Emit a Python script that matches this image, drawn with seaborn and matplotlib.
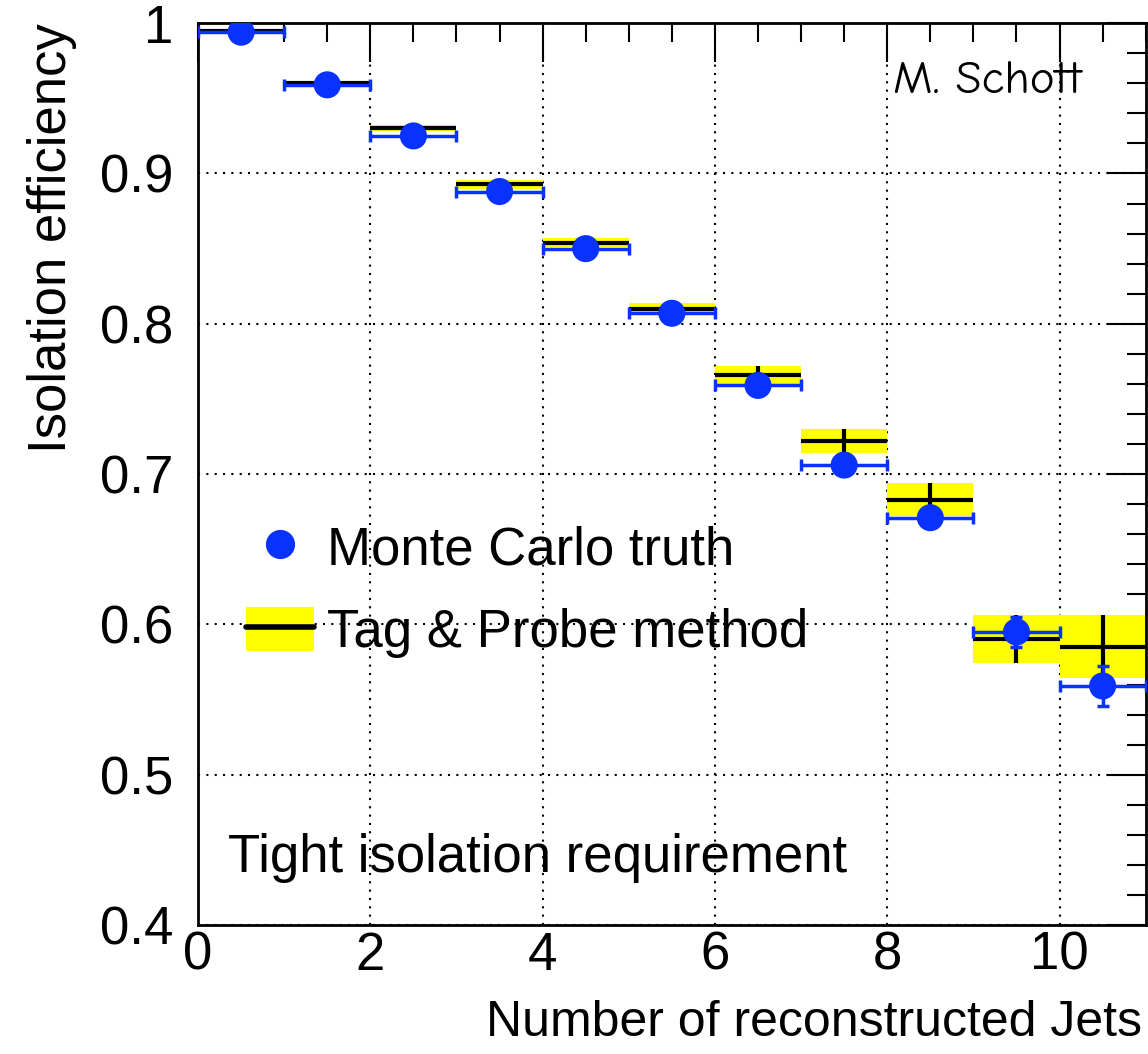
import numpy as np
import pandas as pd
import matplotlib
matplotlib.use("Agg")
import matplotlib.pyplot as plt
from matplotlib.lines import Line2D
from matplotlib.patches import Patch
from matplotlib.ticker import MultipleLocator
import seaborn as sns

# ---- data ----
bin_centers = [0.5, 1.5, 2.5, 3.5, 4.5, 5.5, 6.5, 7.5, 8.5, 9.5, 10.5]
mc_truth = [0.994, 0.959, 0.925, 0.888, 0.850, 0.807, 0.759, 0.706, 0.671, 0.595, 0.559]
mc_err = [0.001, 0.001, 0.001, 0.001, 0.001, 0.001, 0.002, 0.003, 0.004, 0.010, 0.013]
tp_eff = [0.995, 0.960, 0.930, 0.893, 0.854, 0.810, 0.766, 0.722, 0.683, 0.590, 0.585]
tp_err = [0.001, 0.001, 0.002, 0.003, 0.003, 0.004, 0.006, 0.008, 0.011, 0.016, 0.021]
y_ticks = [0.4, 0.5, 0.6, 0.7, 0.8, 0.9, 1.0]
y_tick_labels = ["0.4", "0.5", "0.6", "0.7", "0.8", "0.9", "1"]
bin_half = 0.5

df = pd.DataFrame({"x": bin_centers, "mc": mc_truth, "mc_err": mc_err,
                   "tp": tp_eff, "tp_err": tp_err})

sns.set_theme(style="white")
plt.rcParams["font.family"] = ["Liberation Sans", "DejaVu Sans"]
plt.rcParams["text.color"] = "black"
plt.rcParams["axes.labelcolor"] = "black"
plt.rcParams["xtick.color"] = "black"
plt.rcParams["ytick.color"] = "black"

fig = plt.figure(figsize=(11.48, 10.54), dpi=100)
ax = fig.add_axes([0.1725, 0.1224, 0.8255, 0.8556])

# Tag & Probe: yellow boxes, black lines
for _, r in df.iterrows():
    ax.fill_between([r.x - bin_half, r.x + bin_half], r.tp - r.tp_err, r.tp + r.tp_err,
                    color="#ffff00", lw=0, zorder=2)
ax.errorbar(df.x, df.tp, xerr=bin_half, yerr=df.tp_err, fmt="none",
            ecolor="black", elinewidth=3, capsize=0, zorder=3)

# MC truth
ax.errorbar(df.x, df.mc, xerr=bin_half, yerr=df.mc_err, fmt="none",
            ecolor="#0a32ff", elinewidth=2.5, capsize=4, capthick=2.5, zorder=4)
sns.scatterplot(data=df, x="x", y="mc", ax=ax, color="#0a32ff", s=380,
                edgecolor="none", zorder=5, legend=False)

ax.set_xlim(0, 11)
ax.set_ylim(0.4, 1.0)
ax.xaxis.set_major_locator(MultipleLocator(2))
ax.xaxis.set_minor_locator(MultipleLocator(0.5))
ax.yaxis.set_major_locator(MultipleLocator(0.1))
ax.yaxis.set_minor_locator(MultipleLocator(0.02))
ax.set_yticks(y_ticks)
ax.set_yticklabels(y_tick_labels)

ax.tick_params(which="both", direction="in", top=True, right=True,
               labelsize=38, width=1.5)
ax.tick_params(which="major", length=28)
ax.tick_params(axis="y", which="major", pad=18)
ax.tick_params(axis="x", which="major", pad=4)
ax.tick_params(which="minor", length=14)
ax.grid(True, which="major", linestyle=(0, (1, 3)), color="black", lw=1.5)
for s in ax.spines.values():
    s.set_color("black")
    s.set_linewidth(2)

ax.set_xlabel("")
ax.set_ylabel("Isolation efficiency", fontsize=38, loc="top", labelpad=16)
fig.text(0.995, 0.008, "Number of reconstructed Jets", fontsize=36, ha="right", va="bottom")

ax.text(0.032, 0.074, "Tight isolation requirement", transform=ax.transAxes,
        fontsize=38, ha="left", va="center")
ax.text(0.733, 0.935, "M. Schott", transform=ax.transAxes, fontsize=34,
        ha="left", va="center", family=["Comic Neue", "Lato", "DejaVu Sans"])

h1 = Line2D([], [], marker="o", color="#0a32ff", ls="none", markersize=20)
h2 = (Patch(facecolor="#ffff00", edgecolor="none"),
      Line2D([], [], color="black", lw=4))
ax.legend([h1, h2], ["Monte Carlo truth", "Tag & Probe method"],
          loc="center left", bbox_to_anchor=(0.0, 0.37), frameon=False,
          fontsize=38, handlelength=1.3, handleheight=0.9, labelspacing=0.6,
          handletextpad=0.25)

fig.savefig("out.png", dpi=100)
